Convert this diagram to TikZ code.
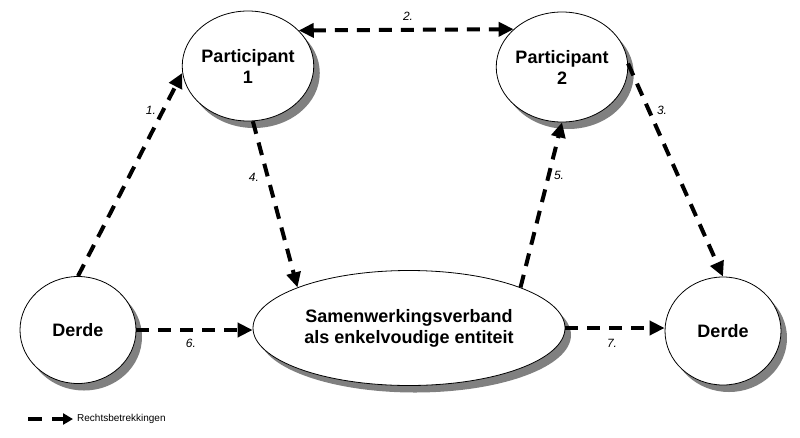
\documentclass[tikz,border=0pt]{standalone}
\usepackage{fontspec}
\setmainfont{Liberation Sans}
\usetikzlibrary{arrows.meta,shapes.geometric,shadows}
\begin{document}
\begin{tikzpicture}[x=1pt,y=-1pt,
  entity/.style={ellipse, draw=black, line width=0.8pt, fill=white, inner sep=0pt,
    font=\bfseries\fontsize{18}{21}\selectfont, align=center,
    drop shadow={shadow xshift=6pt, shadow yshift=-7pt, fill=black!50, opacity=1}},
  rel/.style={line width=4pt, dash pattern=on 13pt off 9pt, -{Triangle[length=15pt,width=14pt]}},
  num/.style={font=\itshape\fontsize{12}{14}\selectfont, inner sep=0pt}]
\useasboundingbox[fill=white] (0,0) rectangle (800,437);
\node[entity, minimum width=106pt, minimum height=110pt] (p1) at (248,66) {Participant\\1};
\node[entity, minimum width=114pt, minimum height=110pt] (p2) at (562,67) {Participant\\2};
\node[entity, minimum width=116pt, minimum height=107pt] (d1) at (78,330) {Derde};
\node[entity, minimum width=116pt, minimum height=108pt] (d2) at (723,331) {Derde};
\node[entity, minimum width=312pt, minimum height=115pt] (e) at (409,328) {Samenwerkingsverband\\als enkelvoudige entiteit};

\draw[rel] (d1.north) -- (p1.186);
\draw[rel, {Triangle[length=15pt,width=14pt]}-{Triangle[length=15pt,width=14pt]}] (p1.35) -- (p2.142);
\draw[rel] (p2.3) -- (d2.north);
\draw[rel] (p1.275) -- (e.160);
\draw[rel] (e.20) -- (p2.south);
\draw[rel] (d1.east) -- (d1.east -| e.west);
\draw[rel] (e.east) -- (e.east -| d2.west);

\node[num] (n1) at (151,110) {1.};
\node[num] (n2) at (408,16) {2.};
\node[num] (n3) at (662,110) {3.};
\node[num] (n4) at (254,177) {4.};
\node[num] (n5) at (559,175) {5.};
\node[num] (n6) at (191,343) {6.};
\node[num] (n7) at (612,343) {7.};

\coordinate (la) at (28,419);
\coordinate (lb) at (42,419);
\coordinate (lc) at (52,419);
\node[anchor=west, font=\fontsize{10}{12}\selectfont, inner sep=0pt] (lt) at (77,419) {Rechtsbetrekkingen};
\draw[line width=4pt] (la) -- (lb);
\draw[line width=4pt, -{Triangle[length=10pt,width=11pt]}] (lc) -- ([xshift=-4pt]lt.west);
\end{tikzpicture}
\end{document}
